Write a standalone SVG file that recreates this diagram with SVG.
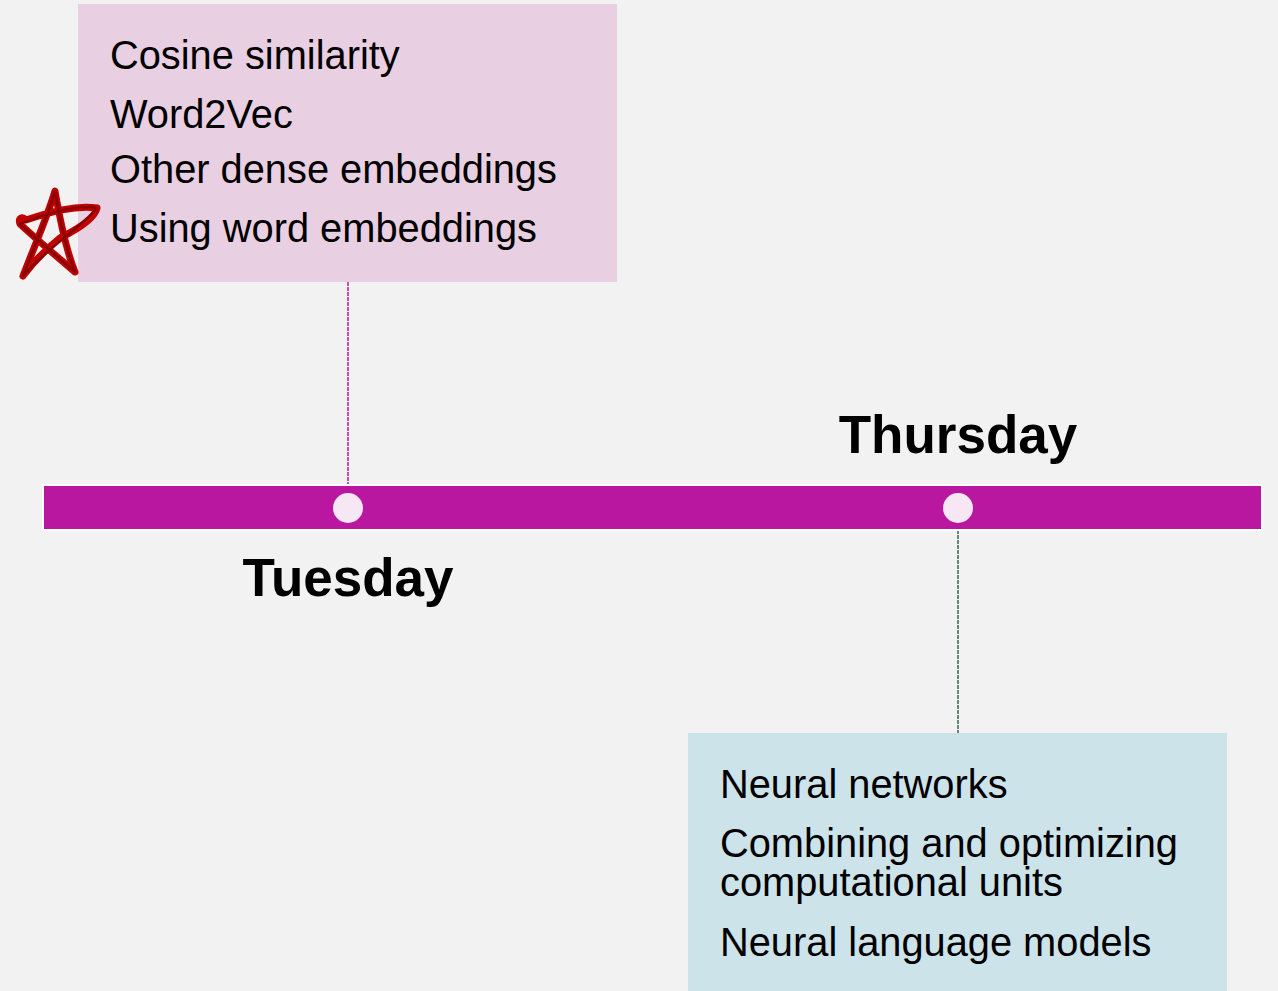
<svg xmlns="http://www.w3.org/2000/svg" width="1278" height="991" viewBox="0 0 1278 991">
  <style>
    .item { font-family: "Liberation Sans", Arial, sans-serif; font-size: 39.8px; fill: #000; }
    .day { font-family: "Liberation Sans", Arial, sans-serif; font-size: 53px; font-weight: bold; fill: #000; text-anchor: middle; }
    .dot { fill: #f7e6f4; }
  </style>
  <rect x="0" y="0" width="1278" height="991" fill="#f2f2f2"/>
  <g id="connectors">
    <line x1="348" y1="282" x2="348" y2="485" stroke="#b9179f" stroke-width="1.5" stroke-dasharray="4 1"/>
    <line x1="958" y1="530" x2="958" y2="733" stroke="#2f6b4f" stroke-width="1.5" stroke-dasharray="4 1"/>
  </g>
  <g id="timeline">
    <rect x="43" y="485" width="1219" height="45" fill="#b9179f" stroke="#ffffff" stroke-width="2"/>
    <circle class="dot" cx="348" cy="508" r="15"/>
    <circle class="dot" cx="958" cy="508" r="15"/>
  </g>
  <g id="tuesday-box">
    <rect x="78" y="4" width="539" height="278" fill="#e8cfe1"/>
    <text class="item" x="110" y="69">Cosine similarity</text>
    <text class="item" x="110" y="128">Word2Vec</text>
    <text class="item" x="110" y="183">Other dense embeddings</text>
    <text class="item" x="110" y="242">Using word embeddings</text>
  </g>
  <g id="star">
    <path d="M23,276 C35,245 48,215 55,191 C60,220 66,250 75,272 C55,255 35,238 20,224 C18,218 22,216 26,220 C50,212 75,205 97,208 C95,218 80,228 60,238 C45,250 32,264 23,276" fill="none" stroke="#c00000" stroke-width="7" stroke-linejoin="round" stroke-linecap="round"/>
    <path d="M23,276 C35,245 48,215 55,191 C60,220 66,250 75,272 C55,255 35,238 20,224 C50,212 75,205 97,208 C80,228 45,250 23,276" fill="none" stroke="#5a0000" stroke-width="2.5" stroke-linejoin="round" stroke-linecap="round" opacity="0.55"/>
  </g>
  <g id="tuesday-label">
    <text class="day" x="348" y="596">Tuesday</text>
  </g>
  <g id="thursday-label">
    <text class="day" x="958" y="453">Thursday</text>
  </g>
  <g id="thursday-box">
    <rect x="688" y="733" width="539" height="258" fill="#cde3ea"/>
    <text class="item" x="720" y="798">Neural networks</text>
    <text class="item" x="720" y="857">Combining and optimizing<tspan x="720" y="896">computational units</tspan></text>
    <text class="item" x="720" y="956">Neural language models</text>
  </g>
</svg>
